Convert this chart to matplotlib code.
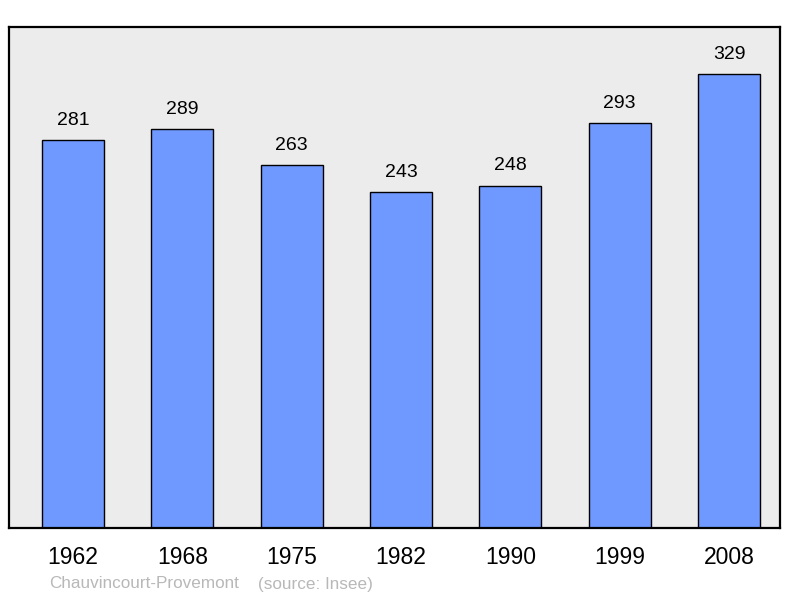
import matplotlib.pyplot as plt
import numpy as np

years = ["1962", "1968", "1975", "1982", "1990", "1999", "2008"]
population = [281, 289, 263, 243, 248, 293, 329]
commune = "Chauvincourt-Provemont"
source = "(source: Insee)"

plt.rcParams['font.family'] = ['Liberation Sans', 'DejaVu Sans']

fig = plt.figure(figsize=(8.0, 5.98), dpi=100)
ax = fig.add_axes([9/800, 70/598, 771/800, 501/598])
ax.set_facecolor("#ececec")

x = np.arange(len(years))
ax.bar(x, population, width=0.567, color="#7099ff", edgecolor="black",
       linewidth=1.0, zorder=2)
for xi, v in zip(x, population):
    ax.annotate(str(v), (xi, v), xytext=(0, 8), textcoords="offset points",
                ha="center", va="bottom", fontsize=14)

ax.set_xlim(-0.585, 6.466)
ax.set_ylim(0, 362.8)
ax.set_yticks([])
ax.set_xticks(x)
ax.set_xticklabels(years, fontsize=16.5)
ax.tick_params(axis="x", length=0, pad=13)
for s in ax.spines.values():
    s.set_linewidth(1.6)

fig.text(49/800, 1 - 584/598, commune, color="#b8b8b8", fontsize=12.3, va="center")
fig.text(258/800, 1 - 584/598, source, color="#b8b8b8", fontsize=12.3, va="center")

fig.savefig("out.png", dpi=100)
